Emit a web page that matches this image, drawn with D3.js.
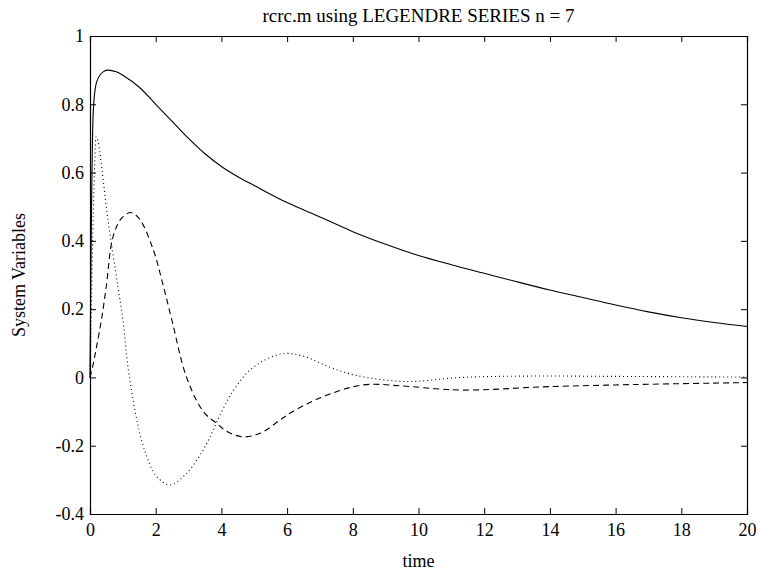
<!DOCTYPE html>
<html>
<head>
<meta charset="utf-8">
<script src="https://cdn.jsdelivr.net/npm/d3@7/dist/d3.min.js"></script>
<style>
  body { margin: 0; background: #fff; }
  svg text { font-family: "Liberation Serif", "Times New Roman", serif; fill: #000; }
</style>
</head>
<body>
<svg width="757" height="579"></svg>
<script>
// values (time, value)
const solidT = [0, 0.03, 0.06, 0.1, 0.15, 0.2, 0.3, 0.4, 0.53, 0.8, 1, 1.5, 2, 2.5, 3, 3.5, 4, 4.5, 5, 6, 7, 8, 9, 10, 11, 12, 13, 14, 15, 16, 17, 18, 19, 20];
const solidV = [0, 0.35, 0.6, 0.78, 0.84, 0.865, 0.885, 0.895, 0.9, 0.895, 0.885, 0.85, 0.8, 0.75, 0.7, 0.655, 0.618, 0.588, 0.562, 0.512, 0.47, 0.427, 0.39, 0.357, 0.33, 0.305, 0.28, 0.256, 0.234, 0.212, 0.192, 0.175, 0.161, 0.149];

const dashT = [0, 0.1, 0.2, 0.35, 0.5, 0.67, 0.85, 1, 1.24, 1.5, 1.93, 2.2, 2.5, 2.94, 3.45, 3.86, 4.2, 4.67, 5.2, 5.78, 6.1, 7, 8.3, 9.5, 10.5, 11.3, 12.5, 13.4, 16, 20];
const dashV = [0, 0.04, 0.09, 0.17, 0.27, 0.4, 0.45, 0.47, 0.483, 0.465, 0.373, 0.28, 0.165, 0, -0.1, -0.135, -0.16, -0.174, -0.163, -0.125, -0.104, -0.06, -0.022, -0.025, -0.033, -0.037, -0.034, -0.029, -0.022, -0.015];

const dotT = [0, 0.05, 0.1, 0.15, 0.19, 0.25, 0.35, 0.55, 0.85, 1, 1.2, 1.62, 2.03, 2.44, 2.9, 3.3, 3.6, 3.86, 4.2, 4.46, 4.8, 5.3, 5.9, 6.5, 7.3, 8.1, 9.6, 11.3, 13.4, 16, 20];
const dotV = [0, 0.25, 0.48, 0.64, 0.705, 0.69, 0.62, 0.46, 0.266, 0.17, 0, -0.2, -0.29, -0.315, -0.285, -0.235, -0.185, -0.13, -0.065, -0.025, 0.015, 0.05, 0.07, 0.062, 0.03, 0.006, -0.012, 0, 0.004, 0.003, 0.001];

const xTicks = [0, 2, 4, 6, 8, 10, 12, 14, 16, 18, 20];
const yTicks = [-0.4, -0.2, 0, 0.2, 0.4, 0.6, 0.8, 1];

const svg = d3.select("svg");
const mLeft = 90, mRight = 747, mTop = 36, mBottom = 514;

const x = d3.scaleLinear().domain([0, 20]).range([mLeft, mRight]);
const y = d3.scaleLinear().domain([-0.4, 1]).range([mBottom, mTop]);

const fmt = d => (Math.abs(d) < 1e-9 ? "0" : String(+d.toFixed(1)));

// axes with inward ticks on all four sides
svg.append("g").attr("transform", `translate(0,${mBottom})`)
  .call(d3.axisBottom(x).tickValues(xTicks).tickSize(-6).tickPadding(9).tickFormat(fmt));
svg.append("g").attr("transform", `translate(0,${mTop})`)
  .call(d3.axisTop(x).tickValues(xTicks).tickSize(-6).tickFormat(""));
svg.append("g").attr("transform", `translate(${mLeft},0)`)
  .call(d3.axisLeft(y).tickValues(yTicks).tickSize(-6).tickPadding(6).tickFormat(fmt));
svg.append("g").attr("transform", `translate(${mRight},0)`)
  .call(d3.axisRight(y).tickValues(yTicks).tickSize(-6).tickFormat(""));

svg.selectAll(".domain").attr("stroke", "#000").attr("stroke-width", 1.2);
svg.selectAll(".tick line").attr("stroke", "#000");
svg.selectAll(".tick text").attr("font-size", 18).attr("fill", "#000");

const line = d3.line()
  .x(d => x(d[0]))
  .y(d => y(d[1]))
  .curve(d3.curveCatmullRom.alpha(0.5));

const series = [
  { t: solidT, v: solidV, dash: null },
  { t: dashT, v: dashV, dash: "6,4" },
  { t: dotT, v: dotV, dash: "1,3" }
];

svg.append("g").selectAll("path")
  .data(series)
  .enter()
  .append("path")
  .attr("fill", "none")
  .attr("stroke", "#000")
  .attr("stroke-width", 1.1)
  .attr("stroke-dasharray", d => d.dash)
  .attr("d", d => line(d.t.map((t, i) => [t, d.v[i]])));

svg.append("text")
  .attr("x", (mLeft + mRight) / 2).attr("y", 22)
  .attr("text-anchor", "middle").attr("font-size", 19)
  .text("rcrc.m using LEGENDRE SERIES n = 7");

svg.append("text")
  .attr("x", (mLeft + mRight) / 2).attr("y", 567)
  .attr("text-anchor", "middle").attr("font-size", 18)
  .text("time");

svg.append("text")
  .attr("transform", `translate(25,${(mTop + mBottom) / 2}) rotate(-90)`)
  .attr("text-anchor", "middle").attr("font-size", 18)
  .text("System Variables");
</script>
</body>
</html>
